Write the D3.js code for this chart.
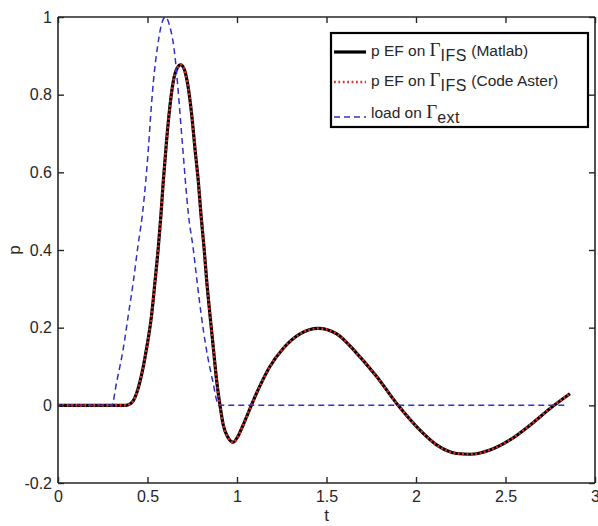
<!DOCTYPE html>
<html><head><meta charset="utf-8">
<script src="https://cdn.jsdelivr.net/npm/d3@7"></script>
<style>
body{margin:0;background:#fff;}
svg{display:block;}
text{font-family:"Liberation Sans",Arial,Helvetica,sans-serif;fill:#262626;}
</style></head>
<body>
<svg id="chart" width="598" height="526"></svg>
<script>
// ---- data ----
const pTime   = [0,0.38,0.40,0.421,0.458,0.495,0.523,0.542,0.56,0.575,0.588,0.603,0.62,0.644,0.665,0.685,0.705,0.722,0.747,0.765,0.784,0.799,0.816,0.831,0.849,0.868,0.887,0.905,0.923,0.95,0.978,1.005,1.035,1.08,1.128,1.184,1.259,1.352,1.454,1.557,1.669,1.78,1.90,2.022,2.115,2.227,2.302,2.413,2.525,2.637,2.749,2.86];
const pMatlab = [0,0,0.003,0.012,0.061,0.147,0.233,0.319,0.405,0.49,0.576,0.662,0.748,0.834,0.868,0.877,0.866,0.834,0.748,0.662,0.576,0.49,0.405,0.319,0.233,0.147,0.061,0,-0.05,-0.083,-0.095,-0.08,-0.05,0,0.05,0.1,0.147,0.184,0.198,0.184,0.134,0.074,0,-0.064,-0.102,-0.124,-0.126,-0.115,-0.089,-0.051,-0.008,0.03];
const pAster  = [0,0,0.003,0.012,0.061,0.147,0.233,0.319,0.405,0.49,0.576,0.662,0.748,0.834,0.868,0.877,0.866,0.834,0.748,0.662,0.576,0.49,0.405,0.319,0.233,0.147,0.061,0,-0.05,-0.083,-0.095,-0.08,-0.05,0,0.05,0.1,0.147,0.184,0.198,0.184,0.134,0.074,0,-0.064,-0.102,-0.124,-0.126,-0.115,-0.089,-0.051,-0.008,0.03];
const loadTime = [0,0.30,0.328,0.365,0.393,0.421,0.445,0.471,0.49,0.505,0.518,0.533,0.555,0.575,0.60,0.625,0.648,0.667,0.682,0.697,0.712,0.729,0.755,0.777,0.80,0.828,0.865,0.898,2.85];
const loadExt  = [0,0,0.061,0.147,0.233,0.319,0.405,0.49,0.576,0.662,0.748,0.834,0.92,0.975,1.0,0.975,0.92,0.834,0.748,0.662,0.576,0.49,0.405,0.319,0.233,0.147,0.061,0,0];
const xTicks = [0,0.5,1,1.5,2,2.5,3];
const xTickLabels = ["0","0.5","1","1.5","2","2.5","3"];
const yTicks = [-0.2,0,0.2,0.4,0.6,0.8,1];
const yTickLabels = ["-0.2","0","0.2","0.4","0.6","0.8","1"];

// ---- layout ----
const svg = d3.select("#chart");
const L = 58, R = 595, T = 17, B = 483;
const x = d3.scaleLinear().domain([0,3]).range([L,R]);
const y = d3.scaleLinear().domain([-0.2,1]).range([B,T]);
const axisCol = "#262626";

const line = d3.line().x(d=>x(d[0])).y(d=>y(d[1])).curve(d3.curveMonotoneX);
const plot = svg.append("g");
plot.append("path").datum(pTime.map((t,i)=>[t,pMatlab[i]]))
  .attr("d",line).attr("fill","none").attr("stroke","#000").attr("stroke-width",3.2);
plot.append("path").datum(pTime.map((t,i)=>[t,pAster[i]]))
  .attr("d",line).attr("fill","none").attr("stroke","#e0302a").attr("stroke-width",2.6)
  .attr("stroke-dasharray","1.8,2.6");
plot.append("path").datum(loadTime.map((t,i)=>[t,loadExt[i]]))
  .attr("d",line).attr("fill","none").attr("stroke","#3030c8").attr("stroke-width",1.5)
  .attr("stroke-dasharray","6,4");

// ---- axes (box with inner ticks) ----
const gBottom = svg.append("g").attr("transform",`translate(0,${B})`)
  .call(d3.axisBottom(x).tickValues(xTicks).tickSize(-6).tickPadding(8)
        .tickFormat((d,i)=>xTickLabels[i]));
const gTop = svg.append("g").attr("transform",`translate(0,${T})`)
  .call(d3.axisTop(x).tickValues(xTicks).tickSize(-6).tickFormat(""));
const gLeft = svg.append("g").attr("transform",`translate(${L},0)`)
  .call(d3.axisLeft(y).tickValues(yTicks).tickSize(-6).tickPadding(6)
        .tickFormat((d,i)=>yTickLabels[i]));
const gRight = svg.append("g").attr("transform",`translate(${R},0)`)
  .call(d3.axisRight(y).tickValues(yTicks).tickSize(-6).tickFormat(""));
[gBottom,gTop,gLeft,gRight].forEach(g=>{
  g.select(".domain").attr("stroke",axisCol).attr("stroke-width",1.6);
  g.selectAll(".tick line").attr("stroke",axisCol).attr("stroke-width",1.4);
  g.selectAll(".tick text").attr("font-family","'Liberation Sans',Arial,sans-serif")
    .attr("font-size",16).attr("fill",axisCol);
});
[gBottom,gTop].forEach(g=>g.select(".domain").attr("d",`M${L},0H${R}`));
[gLeft,gRight].forEach(g=>g.select(".domain").attr("d",`M0,${T}V${B}`));

svg.append("text").attr("x",(L+R)/2).attr("y",521).attr("text-anchor","middle")
  .attr("font-size",17).text("t");
svg.append("text").attr("transform",`translate(20,${(T+B)/2}) rotate(-90)`)
  .attr("text-anchor","middle").attr("font-size",17).text("p");

// ---- legend ----
const lg = svg.append("g");
lg.append("rect").attr("x",331).attr("y",33).attr("width",257).attr("height",94)
  .attr("fill","#fff").attr("stroke","#000").attr("stroke-width",2.2);
const entries = [
  {pre:"p EF on ", sub:"IFS", post:" (Matlab)", stroke:"#000", w:3.2, dash:null, ly:52, ty:56},
  {pre:"p EF on ", sub:"IFS", post:" (Code Aster)", stroke:"#e0302a", w:2.6, dash:"1.8,2.6", ly:82, ty:86},
  {pre:"load on ", sub:"ext", post:"", stroke:"#3030c8", w:1.5, dash:"6,4", ly:117, ty:118}
];
entries.forEach(e=>{
  const ln = lg.append("line").attr("x1",334).attr("x2",366).attr("y1",e.ly).attr("y2",e.ly)
    .attr("stroke",e.stroke).attr("stroke-width",e.w);
  if(e.dash) ln.attr("stroke-dasharray",e.dash);
  const t = lg.append("text").attr("x",371).attr("y",e.ty).attr("font-size",15.5).attr("fill","#000");
  t.append("tspan").text(e.pre);
  t.append("tspan").attr("font-family","'Liberation Serif','Times New Roman',serif").attr("font-size",19).text("Γ");
  t.append("tspan").attr("dy",5).attr("font-size",16).attr("letter-spacing",0.5).text(e.sub);
  if(e.post) t.append("tspan").attr("dy",-5).attr("letter-spacing",0).text(e.post);
});
</script>
</body></html>
